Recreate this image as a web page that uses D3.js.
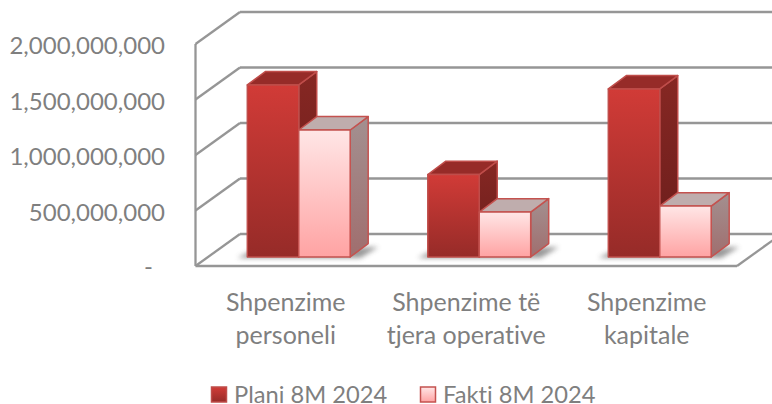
<!DOCTYPE html>
<meta charset="utf-8">
<style>
    html, body { margin: 0; background: #fff; }
    svg { display: block; }
    text { font-family: Lato, "Open Sans", sans-serif; fill: #7f7f7f; font-variant-ligatures: none; }
</style>

<svg width="772" height="404">
    <defs>
        <linearGradient id="planFront" x1="0" y1="0" x2="0" y2="1">
            <stop offset="0" stop-color="#d13b37"></stop>
            <stop offset="1" stop-color="#962b28"></stop>
        </linearGradient>
        <linearGradient id="planSide" x1="0" y1="0" x2="0" y2="1">
            <stop offset="0" stop-color="#862723"></stop>
            <stop offset="1" stop-color="#6a1d1b"></stop>
        </linearGradient>
        <linearGradient id="faktiFront" x1="0" y1="0" x2="0" y2="1">
            <stop offset="0" stop-color="#ffe6e6"></stop>
            <stop offset="1" stop-color="#ffa3a3"></stop>
        </linearGradient>
        <linearGradient id="faktiSide" x1="0" y1="0" x2="0" y2="1">
            <stop offset="0" stop-color="#a39090"></stop>
            <stop offset="1" stop-color="#a06e6e"></stop>
        </linearGradient>
        <filter id="soft" x="-30%" y="-100%" width="160%" height="300%">
            <feGaussianBlur stdDeviation="2.5"></feGaussianBlur>
        </filter>
    </defs>
</svg>
<script src="https://d3js.org/d3.v7.min.js"></script>
<script>

    var categories = [["Shpenzime", "personeli"], ["Shpenzime të", "tjera operative"], ["Shpenzime", "kapitale"]];
    var seriesNames = ["Plani 8M 2024", "Fakti 8M 2024"];
    var plani = [1550000000, 743000000, 1514000000];
    var fakti = [1144000000, 405000000, 459000000];
    var yTicks = [0, 500000000, 1000000000, 1500000000, 2000000000];

    var svg = d3.select("svg");

    // front face of the plot box, the wall sits behind it
    var left = 195.5, right = 737, bottom = 266, top_ = 44;
    var wallDx = 44.5, wallDy = -32;
    // where the bars stand on the floor, and how deep they are
    var barDx = 13, barDy = -9, depthDx = 18, depthDy = -13.4;

    var keys = categories.map(function(d){ return d.join(" "); });

    var x = d3.scaleBand().domain(keys).range([left, right])
        .paddingInner(0.43).paddingOuter(0.215);
    var x1 = d3.scaleBand().domain(seriesNames).range([0, x.bandwidth()]);
    var y = d3.scaleLinear().domain([0, 2000000000]).range([bottom, top_]);

    var gridColor = "#969696";

    //walls and floor
    var grid = svg.append("g").attr("class", "grid")
        .attr("fill", "none").attr("stroke", gridColor).attr("stroke-width", 2.3);

    grid.selectAll(".back").data(yTicks).enter().append("line")
        .attr("x1", left + wallDx).attr("x2", 772)
        .attr("y1", function(d){ return y(d) + wallDy; })
        .attr("y2", function(d){ return y(d) + wallDy; });

    grid.selectAll(".side").data(yTicks).enter().append("line")
        .attr("x1", left).attr("x2", left + wallDx)
        .attr("y1", function(d){ return y(d); })
        .attr("y2", function(d){ return y(d) + wallDy; });

    grid.append("line").attr("x1", left).attr("x2", left)
        .attr("y1", y(0)).attr("y2", y(2000000000));
    grid.append("line").attr("x1", left).attr("x2", right)
        .attr("y1", y(0)).attr("y2", y(0));
    grid.append("line").attr("x1", right).attr("x2", right + wallDx)
        .attr("y1", y(0)).attr("y2", y(0) + wallDy);

    //bars
    var rows = [];
    keys.forEach(function(k, i){
        rows.push({cat: k, name: seriesNames[0], value: plani[i], kind: "plan"});
        rows.push({cat: k, name: seriesNames[1], value: fakti[i], kind: "fakti"});
    });

    function bx(d){ return x(d.cat) + x1(d.name) + barDx; }
    function by(d){ return y(d.value) + barDy; }
    function y0(){ return y(0) + barDy; }

    var styles = {
        plan: {front: "url(#planFront)", side: "url(#planSide)", top: "#962b28", stroke: "#bf4d4a"},
        fakti: {front: "url(#faktiFront)", side: "url(#faktiSide)", top: "#bfadad", stroke: "#c4524f"}
    };

    //soft shadows on the floor
    svg.append("g").attr("class", "shadows").selectAll("path")
        .data(keys).enter().append("path")
        .attr("d", function(k){
            var x0 = x(k) + barDx, x2 = x0 + x.bandwidth() + depthDx;
            var b = y0();
            return "M" + (x0 - 10) + "," + (b + 1) + "L" + (x0 + 6) + "," + (b - 7) +
                "L" + (x2 + 10) + "," + (b - 10) + "L" + (x2 - 8) + "," + (b + 1) + "Z";
        })
        .attr("fill", "#555").attr("opacity", 0.6).attr("filter", "url(#soft)");

    var bars = svg.append("g").attr("class", "bars").selectAll("g")
        .data(rows).enter().append("g")
        .attr("stroke", function(d){ return styles[d.kind].stroke; })
        .attr("stroke-width", 1.5)
        .attr("stroke-linejoin", "round");

    bars.append("path").attr("fill", function(d){ return styles[d.kind].side; })
        .attr("d", function(d){
            var r = bx(d) + x1.bandwidth();
            return "M" + r + "," + by(d) + "l" + depthDx + "," + depthDy +
                "V" + (y0() + depthDy) + "l" + (-depthDx) + "," + (-depthDy) + "Z";
        });

    bars.append("path").attr("fill", function(d){ return styles[d.kind].top; })
        .attr("d", function(d){
            return "M" + bx(d) + "," + by(d) + "l" + depthDx + "," + depthDy +
                "h" + x1.bandwidth() + "l" + (-depthDx) + "," + (-depthDy) + "Z";
        });

    bars.append("rect").attr("fill", function(d){ return styles[d.kind].front; })
        .attr("x", bx)
        .attr("y", by)
        .attr("width", x1.bandwidth())
        .attr("height", function(d){ return y0() - by(d); });

    //y labels
    var fmt = d3.format(",");
    svg.append("g").selectAll("text").data(yTicks).enter().append("text")
        .attr("x", function(d){ return d === 0 ? 153 : 165; })
        .attr("y", function(d){ return y(d) + (d === 0 ? 9 : 10); })
        .attr("text-anchor", "end")
        .attr("font-size", 24)
        .text(function(d){ return d === 0 ? "-" : fmt(d); });

    //category labels
    var catLabels = svg.append("g").selectAll("text").data(categories).enter().append("text")
        .attr("text-anchor", "middle")
        .attr("font-size", 25);

    catLabels.selectAll("tspan").data(function(d){ return d; }).enter().append("tspan")
        .attr("x", function(){
            var k = d3.select(this.parentNode).datum().join(" ");
            return x(k) + x.bandwidth() / 2;
        })
        .attr("y", function(d, i){ return 311 + i * 33; })
        .text(function(d){ return d; });

    //legend
    var legendX = [211.5, 420.5];
    var legend = svg.append("g").selectAll("g").data(seriesNames).enter().append("g")
        .attr("transform", function(d, i){ return "translate(" + legendX[i] + ",387)"; });

    legend.append("rect").attr("width", 15).attr("height", 15)
        .attr("fill", function(d, i){ return i === 0 ? "url(#planFront)" : "url(#faktiFront)"; })
        .attr("stroke", function(d, i){ return i === 0 ? "#bf4d4a" : "#c4524f"; })
        .attr("stroke-width", 1.5);

    legend.append("text").attr("x", 22.5).attr("y", 16)
        .attr("font-size", 23.7)
        .text(function(d){ return d; });

</script>
